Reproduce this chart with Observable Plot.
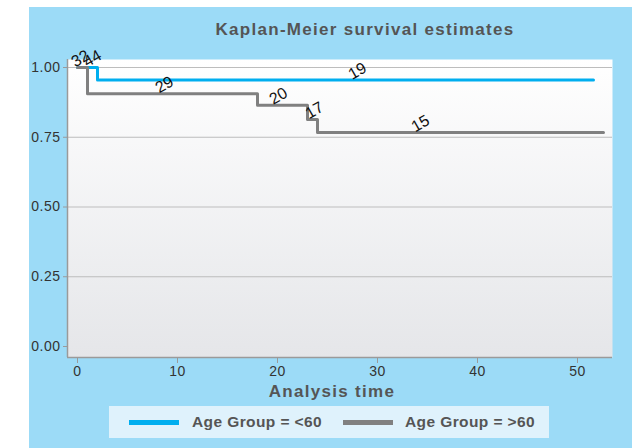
<!DOCTYPE html>
<html>
<head>
<meta charset="utf-8">
<script src="https://cdn.jsdelivr.net/npm/d3@7"></script>
<script src="https://cdn.jsdelivr.net/npm/@observablehq/plot@0.6"></script>
<style>
  html, body { margin: 0; padding: 0; background: #ffffff; }
  #wrap { position: relative; width: 632px; height: 448px; overflow: hidden; font-family: "Liberation Sans", Arial, sans-serif; }
  #bg { position: absolute; left: 29px; top: 7px; right: 0; bottom: 0; background: #9cdbf7; }
  #chart { position: absolute; left: 0; top: 0; }
  .btitle { position: absolute; font-weight: bold; font-size: 17px; letter-spacing: 1.3px; color: #555; white-space: nowrap; transform: translateX(-50%); }
  #legend { position: absolute; left: 109px; top: 406px; width: 440px; height: 32px; background: #dff2fc; }
  .sw { position: absolute; top: 16px; width: 50px; height: 5px; margin-top: -2.5px; }
  .lt { position: absolute; top: 0; line-height: 32px; font-size: 15.5px; font-weight: bold; letter-spacing: 0.4px; color: #555; white-space: nowrap; }
</style>
</head>
<body>
<div id="wrap">
  <div id="bg"></div>
  <div id="chart"></div>
  <div class="btitle" style="left:365px; top:20px;">Kaplan-Meier survival estimates</div>
  <div class="btitle" style="left:332px; top:382px;">Analysis time</div>
  <div id="legend"></div>
</div>
<script>
// ---- data ----
const groupNames = ["Age Group = <60", "Age Group = >60"];
const groupColors = ["#00aeef", "#808080"];

// survival step data, group <60
const timeYoung = [0, 2, 51.6];
const survYoung = [1, 0.955, 0.955];
// survival step data, group >60
const timeOld = [0, 1, 18, 23, 24, 52.6];
const survOld = [1, 0.906, 0.865, 0.814, 0.767, 0.767];

// numbers at risk labels
const riskTime = [0.3, 1.5, 8.7, 28, 20.1, 23.7, 34.3];
const riskSurv = [1, 1, 0.906, 0.955, 0.865, 0.814, 0.767];
const riskN = ["32", "44", "29", "19", "20", "17", "15"];

const xTicks = [0, 10, 20, 30, 40, 50];
const yTicks = [0, 0.25, 0.5, 0.75, 1];
const gridTicks = [0.25, 0.5, 0.75, 1];
const xDomain = [-1, 53.5];
const yDomain = [-0.0394, 1.0287];

// ---- build tables ----
const young = timeYoung.map((t, i) => ({t, s: survYoung[i], g: groupNames[0]}));
const old = timeOld.map((t, i) => ({t, s: survOld[i], g: groupNames[1]}));
const risk = riskTime.map((t, i) => ({t, s: riskSurv[i], n: riskN[i]}));

const svg = Plot.plot({
  width: 632,
  height: 448,
  marginLeft: 67,
  marginRight: 20,
  marginTop: 59,
  marginBottom: 91,
  style: {background: "transparent", fontFamily: "Liberation Sans, Arial, sans-serif", fontSize: "14px", color: "#333", overflow: "visible"},
  x: {domain: xDomain, ticks: xTicks, tickSize: 6, tickPadding: 3, label: null, tickFormat: d3.format("d")},
  y: {domain: yDomain, ticks: yTicks, tickSize: 4, tickPadding: 3, label: null, tickFormat: d3.format(".2f")},
  marks: [
    Plot.frame({fill: "url(#bgGrad)", stroke: "none"}),
    Plot.ruleY(gridTicks, {stroke: "#bdbdbd", strokeWidth: 1.2}),
    Plot.ruleX([xDomain[0]], {stroke: "#9a9a9a", strokeWidth: 1.5}),
    Plot.ruleY([yDomain[0]], {stroke: "#9a9a9a", strokeWidth: 1.5}),
    Plot.line(young, {x: "t", y: "s", curve: "step-after", stroke: groupColors[0], strokeWidth: 3}),
    Plot.line(old, {x: "t", y: "s", curve: "step-after", stroke: groupColors[1], strokeWidth: 3}),
    Plot.text(risk, {x: "t", y: "s", text: "n", rotate: -30, dy: -9, fontSize: 16, fill: "#111", textAnchor: "middle"})
  ]
});

// gradient for plot area
const defs = d3.select(svg).insert("defs", ":first-child");
const grad = defs.append("linearGradient").attr("id", "bgGrad").attr("x1", 0).attr("y1", 0).attr("x2", 0).attr("y2", 1);
grad.append("stop").attr("offset", "0%").attr("stop-color", "#ffffff");
grad.append("stop").attr("offset", "100%").attr("stop-color", "#e5e6e9");

// axis tick colors
d3.select(svg).selectAll('[aria-label="x-axis tick"], [aria-label="y-axis tick"]').attr("stroke", "#9a9a9a");
d3.select(svg).selectAll('[aria-label="x-axis tick label"], [aria-label="y-axis tick label"]').style("letter-spacing", "0.5px");

document.getElementById("chart").appendChild(svg);

// legend
const legend = document.getElementById("legend");
const swX = [20, 234];
const txX = [83, 296];
groupNames.forEach((name, i) => {
  const sw = document.createElement("div");
  sw.className = "sw";
  sw.style.left = swX[i] + "px";
  sw.style.background = groupColors[i];
  legend.appendChild(sw);
  const tx = document.createElement("div");
  tx.className = "lt";
  tx.style.left = txX[i] + "px";
  tx.textContent = name;
  legend.appendChild(tx);
});
</script>
</body>
</html>
